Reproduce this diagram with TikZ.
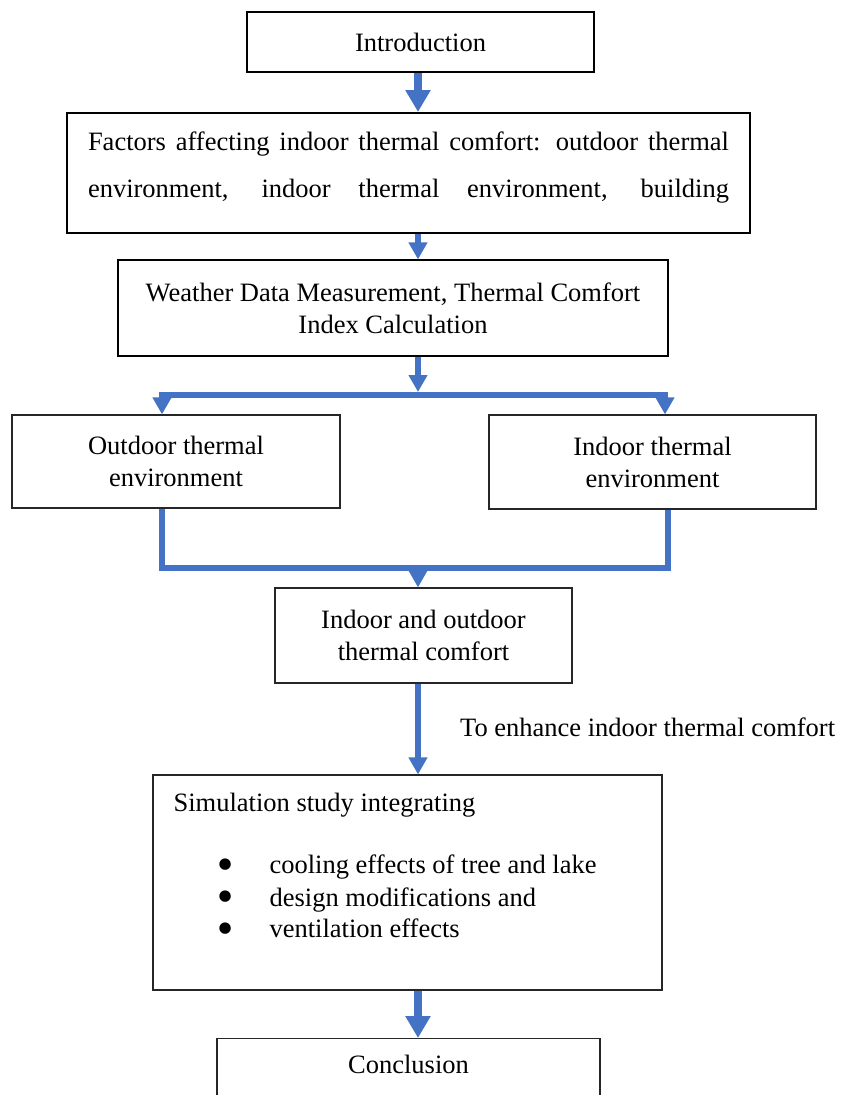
\documentclass[tikz,border=0pt]{standalone}
\usepackage{fontspec}
\setmainfont{Liberation Serif}
\newfontfamily\dotfont{DejaVu Sans}
\usepackage{xcolor}
\usepackage{tikz}
\usetikzlibrary{arrows.meta}
\usetikzlibrary{positioning}
\definecolor{flowblue}{RGB}{68,114,196}
\newcommand{\flowfont}{\fontsize{26.5}{32}\selectfont}
\newcommand{\flowbullet}{\hspace*{45pt}\makebox[51pt][l]{\raisebox{5pt}{\dotfont\fontsize{15}{15}\selectfont ●}}}

\begin{document}
\begin{tikzpicture}[
  x=1pt, y=-1pt,
  box/.style={draw=black!85, line width=1.2pt, font=\flowfont, align=center, inner sep=0pt},
  bbox/.style={box, draw=black, line width=2pt},
  arr/.style={-{Triangle[width=18pt,length=17pt]}, line width=6pt, flowblue},
  barr/.style={-{Triangle[width=24pt,length=22pt]}, line width=8pt, flowblue},
  link/.style={line width=6pt, flowblue}
]
\useasboundingbox (0,0) rectangle (843,1095);
\coordinate (spine) at (418,0);

%% Top part
\node[bbox, minimum width=347pt, minimum height=60pt] (intro) at (420.5,42) {Introduction};
\node[bbox, minimum width=683pt, minimum height=120pt] (factors) at (408.5,173) {};
\node[font=\fontsize{26.5}{47}\selectfont, align=left, inner sep=0pt, below=20pt of factors.north] (factorstext)
  {\makebox[641pt][s]{Factors affecting indoor thermal comfort: outdoor thermal}\\
   \makebox[641pt][s]{environment, indoor thermal environment, building}};
\node[box, draw=black, minimum width=550pt, minimum height=96pt] (weather) at (393,308)
  {Weather Data Measurement, Thermal Comfort\\Index Calculation};

\draw[barr] (intro.south -| spine)--(factors.north -| spine);
\draw[arr] (factors.south -| spine)--(weather.north -| spine);

%% Split into outdoor / indoor
\node[box, minimum width=328pt, minimum height=93pt] (outdoor) at (176,461.5) {Outdoor thermal\\environment};
\node[box, minimum width=327pt, minimum height=94pt] (indoor) at (652.5,462) {Indoor thermal\\environment};

\coordinate (splitM) at (418,395);
\coordinate (splitL) at (162,395);
\coordinate (splitR) at (665,395);
\draw[arr, shorten >=3pt] (weather.south -| spine)--(splitM);
\draw[arr] (splitM) -| (outdoor.north -| splitL);
\draw[arr] (splitM) -| (indoor.north -| splitR);

%% Merge
\node[box, minimum width=297pt, minimum height=95pt] (io) at (423.5,635.5) {Indoor and outdoor\\thermal comfort};

\coordinate (mergeL) at (162,568);
\coordinate (mergeR) at (668,568);
\coordinate (mergeM) at (418,568);
\draw[link] (outdoor.south -| mergeL)--(mergeL)--(mergeR)--(indoor.south -| mergeR);
\draw[arr] (mergeM)--(io.north -| spine);

%% Simulation study
\node[box, minimum width=509pt, minimum height=215pt] (sim) at (407.5,882.5) {};
\node[font=\flowfont, align=left, anchor=north west, inner sep=0pt] (simtext) at ([xshift=21pt,yshift=-19pt]sim.north west)
  {Simulation study integrating\\[30pt]
   \flowbullet cooling effects of tree and lake\\
   \flowbullet design modifications and\\
   \flowbullet ventilation effects};

\draw[arr] (io.south -| spine)--(sim.north -| spine);
\node[font=\flowfont, anchor=west, inner sep=0pt] (enhance) at (460,727) {To enhance indoor thermal comfort};

%% Conclusion
\node[box, minimum width=383pt, anchor=north, inner ysep=8pt, text height=27pt, text depth=60pt] (concl) at (408.5,1038) {Conclusion};
\draw[barr] (sim.south -| spine)--(concl.north -| spine);

\end{tikzpicture}
\end{document}
